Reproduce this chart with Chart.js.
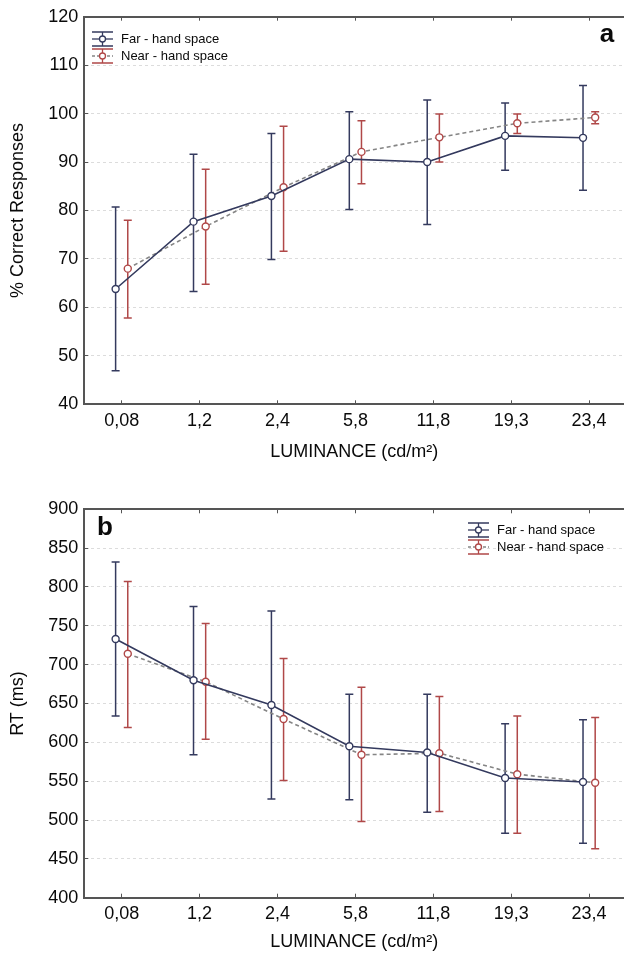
<!DOCTYPE html>
<html>
<head>
<meta charset="utf-8">
<script src="https://cdn.jsdelivr.net/npm/chart.js@4.4.1/dist/chart.umd.min.js"></script>
<style>
html, body { margin: 0; padding: 0; background: #fff; }
canvas { display: block; }
</style>
</head>
<body>
<canvas id="chartA" width="624" height="478"></canvas>
<canvas id="chartB" width="624" height="479"></canvas>
<script>
const categories = ['0,08', '1,2', '2,4', '5,8', '11,8', '19,3', '23,4'];

// panel a: % correct responses
const accFar = [63.8, 77.7, 83.0, 90.6, 90.0, 95.4, 95.0];
const accFarLow = [46.9, 63.3, 69.9, 80.2, 77.1, 88.3, 84.2];
const accFarHigh = [80.7, 91.6, 95.9, 100.4, 102.8, 102.2, 105.8];
const accNear = [68.0, 76.7, 84.8, 92.1, 95.1, 98.0, 99.2];
const accNearLow = [57.8, 64.8, 71.6, 85.5, 90.0, 95.9, 97.9];
const accNearHigh = [78.0, 88.5, 97.4, 98.5, 99.9, 99.9, 100.4];

// panel b: reaction times (ms)
const rtFar = [733, 680, 648, 595, 587, 554, 549];
const rtFarLow = [634, 584, 527, 526, 510, 483, 470];
const rtFarHigh = [832, 775, 769, 662, 662, 624, 629];
const rtNear = [714, 678, 630, 584, 586, 559, 548];
const rtNearLow = [619, 604, 551, 498, 511, 483, 463];
const rtNearHigh = [807, 753, 708, 671, 659, 634, 632];

const farColor = '#343a5e';
const nearColor = '#b04848';
const nearLine = '#858585';
const axisColor = '#555555';
const textColor = '#0a0a0a';
const fontFamily = '"Liberation Sans", Arial, sans-serif';

Chart.defaults.font.family = fontFamily;
Chart.defaults.color = textColor;

function points(values, shift) {
    return values.map(function(v, i) {
        return { x: i + shift, y: v };
    });
}

const errorBarPlugin = {
    id: 'errorBars',
    beforeDatasetsDraw(chart) {
        const ctx = chart.ctx;
        const x = chart.scales.x;
        const y = chart.scales.y;
        chart.data.datasets.forEach(function(ds) {
            ctx.save();
            ctx.strokeStyle = ds.errColor;
            ctx.lineWidth = 1.5;
            ds.data.forEach(function(p, i) {
                const px = x.getPixelForValue(p.x);
                const top = y.getPixelForValue(ds.errHigh[i]);
                const bot = y.getPixelForValue(ds.errLow[i]);
                ctx.beginPath();
                ctx.moveTo(px, top);
                ctx.lineTo(px, bot);
                ctx.moveTo(px - 4, top);
                ctx.lineTo(px + 4, top);
                ctx.moveTo(px - 4, bot);
                ctx.lineTo(px + 4, bot);
                ctx.stroke();
            });
            ctx.restore();
        });
    }
};

function drawIcon(ctx, x0, y, capColor, lineColor, dash) {
    ctx.save();
    ctx.lineWidth = 1.3;
    ctx.strokeStyle = lineColor;
    ctx.setLineDash(dash);
    ctx.beginPath();
    ctx.moveTo(x0, y);
    ctx.lineTo(x0 + 21, y);
    ctx.stroke();
    ctx.setLineDash([]);
    ctx.strokeStyle = capColor;
    ctx.beginPath();
    ctx.moveTo(x0, y - 7);
    ctx.lineTo(x0 + 21, y - 7);
    ctx.moveTo(x0, y + 7);
    ctx.lineTo(x0 + 21, y + 7);
    ctx.moveTo(x0 + 10.5, y - 7);
    ctx.lineTo(x0 + 10.5, y + 7);
    ctx.stroke();
    ctx.fillStyle = '#fff';
    ctx.beginPath();
    ctx.arc(x0 + 10.5, y, 3, 0, Math.PI * 2);
    ctx.fill();
    ctx.stroke();
    ctx.restore();
}

const panelPlugin = {
    id: 'panel',
    afterDraw(chart) {
        const o = chart.options.plugins.panel;
        const ctx = chart.ctx;
        ctx.save();
        ctx.fillStyle = textColor;
        ctx.textBaseline = 'middle';
        ctx.textAlign = 'center';
        ctx.font = 'bold 26px ' + fontFamily;
        ctx.fillText(o.letter, o.letterX, o.letterY);

        drawIcon(ctx, o.legendX, o.legendY, farColor, farColor, []);
        drawIcon(ctx, o.legendX, o.legendY + 17, nearColor, nearLine, [3, 2]);
        ctx.textAlign = 'left';
        ctx.font = '13px ' + fontFamily;
        ctx.fillText('Far - hand space', o.legendX + 29, o.legendY);
        ctx.fillText('Near - hand space', o.legendX + 29, o.legendY + 17);
        ctx.restore();
    }
};

function categoryTicks(scale) {
    scale.ticks = categories.map(function(c, i) { return { value: i }; });
}

function makeChart(id, cfg) {
    const yMin = cfg.yMin;
    const yMax = cfg.yMax;
    return new Chart(document.getElementById(id), {
        type: 'line',
        data: {
            datasets: [{
                label: 'Far - hand space',
                data: points(cfg.far, -0.078),
                errLow: cfg.farLow,
                errHigh: cfg.farHigh,
                errColor: farColor,
                borderColor: farColor,
                borderWidth: 1.6,
                pointRadius: 3.5,
                pointBorderWidth: 1.4,
                pointBackgroundColor: '#fff',
                pointBorderColor: farColor,
                tension: 0
            }, {
                label: 'Near - hand space',
                data: points(cfg.near, 0.078),
                errLow: cfg.nearLow,
                errHigh: cfg.nearHigh,
                errColor: nearColor,
                borderColor: nearLine,
                borderWidth: 1.6,
                borderDash: [4, 3],
                pointRadius: 3.5,
                pointBorderWidth: 1.4,
                pointBackgroundColor: '#fff',
                pointBorderColor: nearColor,
                tension: 0
            }]
        },
        options: {
            responsive: false,
            animation: false,
            devicePixelRatio: 1,
            layout: { padding: 0, autoPadding: false },
            plugins: {
                legend: { display: false },
                tooltip: { enabled: false },
                panel: cfg.panel
            },
            scales: {
                x: {
                    type: 'linear',
                    position: 'bottom',
                    min: -0.48,
                    max: 6.448,
                    afterBuildTicks: categoryTicks,
                    afterFit: function(scale) {
                        scale.height = cfg.bottomH;
                        scale.paddingLeft = 0;
                        scale.paddingRight = 0;
                    },
                    ticks: {
                        padding: 10,
                        font: { size: 18 },
                        callback: function(v) { return categories[v]; }
                    },
                    grid: {
                        drawOnChartArea: false,
                        drawTicks: true,
                        tickLength: -4,
                        tickColor: axisColor
                    },
                    border: { color: axisColor, width: 2 },
                    title: {
                        display: true,
                        text: 'LUMINANCE (cd/m²)',
                        font: { size: 18 },
                        padding: { top: 0, bottom: cfg.titlePad }
                    }
                },
                x2: {
                    type: 'linear',
                    position: 'top',
                    min: -0.48,
                    max: 6.448,
                    afterBuildTicks: categoryTicks,
                    afterFit: function(scale) {
                        scale.height = cfg.topH;
                        scale.paddingLeft = 0;
                        scale.paddingRight = 0;
                    },
                    ticks: { display: false },
                    grid: {
                        drawOnChartArea: false,
                        drawTicks: true,
                        tickLength: -4,
                        tickColor: axisColor
                    },
                    border: { color: axisColor, width: 2 }
                },
                y: {
                    min: yMin,
                    max: yMax,
                    afterFit: function(scale) {
                        scale.width = 84.3;
                        scale.paddingTop = 0;
                        scale.paddingBottom = 0;
                    },
                    ticks: {
                        stepSize: cfg.step,
                        padding: 10,
                        font: { size: 18 }
                    },
                    grid: {
                        drawTicks: true,
                        tickLength: -4,
                        tickColor: axisColor,
                        lineWidth: 1,
                        color: function(ctx) {
                            if (!ctx.tick) return '#dcdcdc';
                            const v = ctx.tick.value;
                            return (v === yMin || v === yMax) ? 'rgba(0,0,0,0)' : '#dcdcdc';
                        }
                    },
                    border: { color: axisColor, width: 2, dash: [3, 3] },
                    title: {
                        display: true,
                        text: cfg.yTitle,
                        font: { size: 18 },
                        padding: { top: 7, bottom: 0 }
                    }
                }
            }
        },
        plugins: [errorBarPlugin, panelPlugin]
    });
}

makeChart('chartA', {
    far: accFar, farLow: accFarLow, farHigh: accFarHigh,
    near: accNear, nearLow: accNearLow, nearHigh: accNearHigh,
    yMin: 40, yMax: 120, step: 10,
    yTitle: '% Correct Responses',
    topH: 16.7, bottomH: 73.7, titlePad: 15.5,
    panel: { letter: 'a', letterX: 607, letterY: 35, legendX: 92, legendY: 39 }
});

makeChart('chartB', {
    far: rtFar, farLow: rtFarLow, farHigh: rtFarHigh,
    near: rtNear, nearLow: rtNearLow, nearHigh: rtNearHigh,
    yMin: 400, yMax: 900, step: 50,
    yTitle: 'RT (ms)',
    topH: 31.3, bottomH: 59.3, titlePad: 4.5,
    panel: { letter: 'b', letterX: 105, letterY: 50, legendX: 468, legendY: 52 }
});
</script>
</body>
</html>
